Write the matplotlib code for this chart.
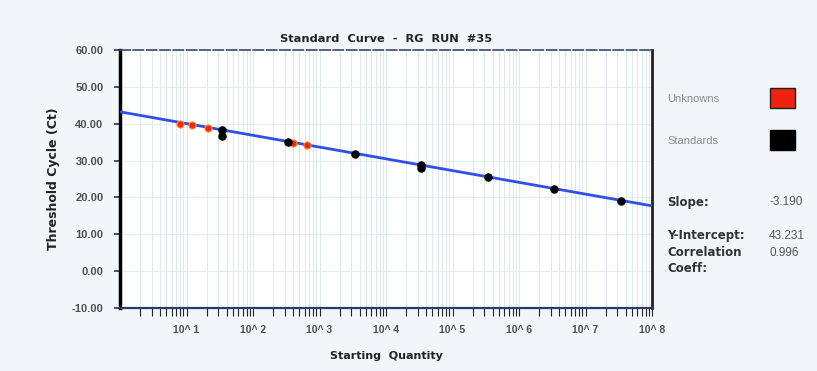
import matplotlib.pyplot as plt
import matplotlib.patches as mpatches
import numpy as np
from matplotlib.ticker import LogLocator, NullFormatter

# values
std_qty = [34, 34, 340, 3400, 34000, 34000, 340000, 3400000, 34000000]
std_ct = [38.2, 36.6, 35.0, 31.8, 28.9, 27.9, 25.5, 22.2, 19.0]
unk_qty = [8, 12, 21, 400, 640]
unk_ct = [39.9, 39.7, 38.8, 34.9, 34.2]

slope = -3.190
intercept = 43.231
corr = 0.996

xlim = (1, 1e8)
yticks = [-10, 0, 10, 20, 30, 40, 50, 60]
xticks = [10**i for i in range(1, 9)]
xticklabels = ['10^ %d' % i for i in range(1, 9)]

plt.rcParams['font.family'] = ['Liberation Sans', 'DejaVu Sans']

fig = plt.figure(figsize=(8.17, 3.71), dpi=100)
fig.patch.set_facecolor('#f1f6f9')
ax = fig.add_axes([120/817, 1-308/371, 532/817, 258/371])
ax.set_facecolor('white')

# fitted standard curve across the whole range
lx = np.array(xlim)
ax.plot(lx, intercept + slope*np.log10(lx), color='#2f4fe6', lw=2, zorder=3)

ax.scatter(unk_qty, unk_ct, s=26, color='#ec2a14', edgecolor='#f39020', lw=0.8, zorder=4)
ax.scatter(std_qty, std_ct, s=26, color='black', zorder=5)

ax.set_xscale('log')
ax.set_xlim(*xlim)
ax.set_ylim(-10, 60)
ax.set_yticks(yticks)
ax.set_yticklabels(['%.2f' % v for v in yticks])
ax.set_xticks(xticks)
ax.set_xticklabels(xticklabels)
ax.xaxis.set_minor_locator(LogLocator(base=10, subs=np.arange(2, 10)))
ax.xaxis.set_minor_formatter(NullFormatter())

ax.grid(True, which='both', axis='x', color='#d6e6ee', lw=0.6)
ax.grid(True, which='major', axis='y', color='#dde9ef', lw=0.6)
ax.set_axisbelow(True)

ax.tick_params(axis='y', length=4, width=1.2, color='#22306a', labelsize=8, labelcolor='#505050', pad=8)
ax.tick_params(axis='x', which='both', length=6, width=0.8, color='#222222', labelsize=7.5,
               labelcolor='#505050', pad=6)
for lbl in ax.get_yticklabels() + ax.get_xticklabels():
    lbl.set_fontweight('bold')

ax.spines['left'].set_linewidth(2.5)
ax.spines['left'].set_color('black')
ax.spines['right'].set_linewidth(2)
ax.spines['right'].set_color('#222222')
ax.spines['bottom'].set_linewidth(1.6)
ax.spines['bottom'].set_color('#2c3c66')
ax.spines['top'].set_linewidth(1.2)
ax.spines['top'].set_color('#3a4a66')
ax.spines['top'].set_linestyle((0, (6, 2)))

ax.set_title('Standard  Curve  -  RG  RUN  #35', fontsize=8.2, fontweight='bold',
             family=['DejaVu Sans'], color='#222222', pad=6)
ax.set_ylabel('Threshold Cycle (Ct)', fontsize=9, fontweight='bold', family=['DejaVu Sans'],
              color='#222222', labelpad=8)
ax.set_xlabel('Starting  Quantity', fontsize=8, fontweight='bold', family=['DejaVu Sans'],
              color='#222222', labelpad=12)

# right-hand panel: legend boxes and fit statistics
fig.text(667/817, 1-99/371, 'Unknowns', fontsize=8, color='#8a8a8a', va='center')
fig.text(667/817, 1-141/371, 'Standards', fontsize=8, color='#8a8a8a', va='center')
fig.patches.append(mpatches.Rectangle((770/817, 1-108/371), 25/817, 20/371,
                                      transform=fig.transFigure, facecolor='#ee2210',
                                      edgecolor='#222222', lw=1))
fig.patches.append(mpatches.Rectangle((770/817, 1-150/371), 25/817, 20/371,
                                      transform=fig.transFigure, facecolor='black',
                                      edgecolor='black', lw=1))

stats = [('Slope:', '%.3f' % slope, 202), ('Y-Intercept:', '%.3f' % intercept, 236),
         ('Correlation', '%.3f' % corr, 253)]
for name, val, ypx in stats:
    fig.text(667/817, 1-ypx/371, name, fontsize=8.5, fontweight='bold', family=['DejaVu Sans'],
             color='#333333', va='center')
    fig.text(769/817, 1-ypx/371, val, fontsize=8.5, color='#555555', va='center')
fig.text(667/817, 1-268/371, 'Coeff:', fontsize=8.5, fontweight='bold', family=['DejaVu Sans'],
         color='#333333', va='center')

fig.savefig('out.png', dpi=100, facecolor=fig.get_facecolor())
